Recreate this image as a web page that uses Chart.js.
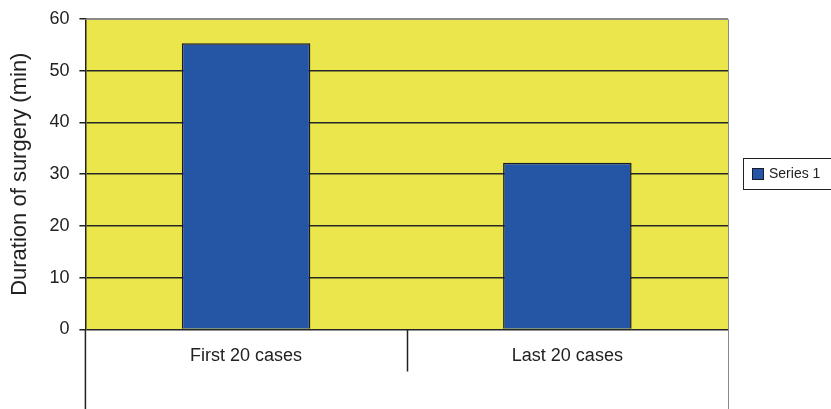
<!DOCTYPE html>
<html>
<head>
<meta charset="utf-8">
<script src="https://cdn.jsdelivr.net/npm/chart.js@4"></script>
<style>
  body { margin: 0; background: #fff; }
  #wrap { width: 831px; height: 409px; }
</style>
</head>
<body>
<div id="wrap"><canvas id="myChart"></canvas></div>
<script>
const categories = ['First 20 cases', 'Last 20 cases']
const series1 = [55.3, 32.2]
const yTicks = [0, 10, 20, 30, 40, 50, 60]
const seriesName = 'Series 1'

const FONT = 'Arial, "Liberation Sans", sans-serif'

// yellow plot background + the frame lines below the plot + boxed legend
const framePlugin = {
    id: 'frame',
    beforeDraw(chart) {
        const { ctx, chartArea: a } = chart
        ctx.save()
        ctx.fillStyle = '#ebe64b'
        ctx.fillRect(a.left, a.top, a.right - a.left, a.bottom - a.top)
        ctx.restore()
    },
    afterDraw(chart) {
        const { ctx, chartArea: a } = chart
        const h = chart.height
        ctx.save()
        ctx.lineWidth = 1
        // top + right border of plot
        ctx.strokeStyle = '#8a8a8a'
        ctx.beginPath()
        ctx.moveTo(a.left, a.top + 0.5)
        ctx.lineTo(a.right + 0.5, a.top + 0.5)
        ctx.lineTo(a.right + 0.5, h)
        ctx.stroke()
        // left line to bottom, middle divider
        ctx.strokeStyle = '#222'
        ctx.lineWidth = 1.5
        ctx.beginPath()
        ctx.moveTo(a.left, a.bottom)
        ctx.lineTo(a.left, h)
        const mid = Math.round((a.left + a.right) / 2) + 0.5
        ctx.moveTo(mid, a.bottom)
        ctx.lineTo(mid, a.bottom + 42)
        ctx.stroke()
        // legend
        const ds = chart.data.datasets[0]
        const cy = Math.round((a.top + a.bottom) / 2)
        const lx = a.right + 15
        ctx.lineWidth = 1
        ctx.strokeStyle = '#222'
        ctx.fillStyle = '#fff'
        ctx.fillRect(lx + 0.5, cy - 15.5, chart.width, 31)
        ctx.strokeRect(lx + 0.5, cy - 15.5, chart.width, 31)
        ctx.fillStyle = ds.backgroundColor
        ctx.fillRect(lx + 9.5, cy - 5.5, 11, 11)
        ctx.strokeStyle = ds.borderColor
        ctx.strokeRect(lx + 9.5, cy - 5.5, 11, 11)
        ctx.fillStyle = '#222'
        ctx.font = '14px ' + FONT
        ctx.textBaseline = 'middle'
        ctx.fillText(ds.label, lx + 26, cy + 0.5)
        ctx.restore()
    }
}

const myChart = new Chart(
    document.getElementById('myChart'),
    {
        type: 'bar',
        data: {
            labels: categories,
            datasets: [{
                label: seriesName,
                data: series1,
                backgroundColor: '#2456a5',
                borderColor: '#1a1a2a',
                borderWidth: 1.5,
                barPercentage: 0.4,
                categoryPercentage: 1
            }]
        },
        options: {
            responsive: true,
            maintainAspectRatio: false,
            animation: false,
            layout: { padding: { top: 0, right: 103, bottom: 26, left: 7 } },
            plugins: {
                legend: { display: false },
                tooltip: { enabled: false }
            },
            scales: {
                x: {
                    grid: { display: false, drawTicks: false },
                    border: { display: false },
                    ticks: {
                        padding: 16,
                        color: '#222',
                        font: { family: FONT, size: 18 }
                    }
                },
                y: {
                    min: 0,
                    max: 60,
                    afterBuildTicks: (axis) => { axis.ticks = yTicks.map(v => ({ value: v })) },
                    grid: {
                        color: (c) => c.tick && c.tick.value === 60 ? '#8a8a8a' : '#262626',
                        lineWidth: 1.5,
                        tickLength: 6,
                        tickColor: '#222'
                    },
                    border: { display: true, color: '#222', width: 1.5 },
                    ticks: {
                        padding: 10,
                        color: '#222',
                        font: { family: FONT, size: 18, lineHeight: 1 }
                    },
                    title: {
                        display: true,
                        text: 'Duration of surgery (min)',
                        color: '#222',
                        padding: { top: 0, bottom: 6 },
                        font: { family: FONT, size: 22 }
                    }
                }
            }
        },
        plugins: [framePlugin]
    })
</script>
</body>
</html>
